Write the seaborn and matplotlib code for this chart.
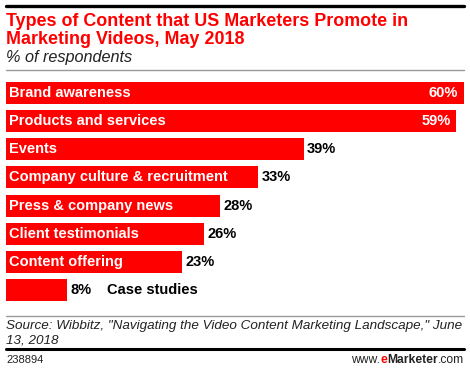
import matplotlib
matplotlib.use('Agg')
import matplotlib.pyplot as plt
import seaborn as sns
import pandas as pd
from matplotlib.lines import Line2D

categories = ['Brand awareness', 'Products and services', 'Events',
              'Company culture & recruitment', 'Press & company news',
              'Client testimonials', 'Content offering', 'Case studies']
values = [60, 59, 39, 33, 28, 26, 23, 8]

df = pd.DataFrame({'category': categories, 'value': values})

sns.set_theme(style='white')
plt.rcParams['font.family'] = ['Liberation Sans', 'DejaVu Sans']

W, H = 470, 371
fig = plt.figure(figsize=(W / 100, H / 100), dpi=100)


def fx(px):
    return px / W


def fy(py):
    return 1 - py / H


def hline(y, color, lw):
    fig.add_artist(Line2D([fx(6), fx(464)], [fy(y), fy(y)], color=color,
                          lw=lw, transform=fig.transFigure, clip_on=False))


RED = '#ff0000'
LBL = 10.5

# bar area
ax = fig.add_axes([fx(6), fy(304.6), fx(464) - fx(6), fy(78.4) - fy(304.6)])
sns.barplot(data=df, x='value', y='category', orient='h', color=RED,
            saturation=1, width=0.78, ax=ax, edgecolor='none')
ax.set_xlim(0, 60)
ax.set_ylim(7.5, -0.5)
ax.axis('off')

for i, (cat, v) in enumerate(zip(categories, values)):
    if v >= 50:
        ax.text(v - 0.75, i, f'{v}%', color='white', fontweight='bold',
                fontsize=LBL, ha='right', va='center')
        ax.text(0.45, i, cat, color='white', fontweight='bold', fontsize=LBL,
                ha='left', va='center')
    elif v >= 15:
        ax.text(v + 0.45, i, f'{v}%', color='black', fontweight='bold',
                fontsize=LBL, ha='left', va='center')
        ax.text(0.45, i, cat, color='white', fontweight='bold', fontsize=LBL,
                ha='left', va='center')
    else:
        ax.text(v + 0.45, i, f'{v}%', color='black', fontweight='bold',
                fontsize=LBL, ha='left', va='center')
        ax.text(13.2, i, cat, color='black', fontweight='bold', fontsize=LBL,
                ha='left', va='center')

# header
hline(6, 'black', 2.4)
fig.text(fx(6), fy(26), 'Types of Content that US Marketers Promote in',
         color=RED, fontweight='bold', fontsize=12.9, va='baseline')
fig.text(fx(6), fy(43.5), 'Marketing Videos, May 2018',
         color=RED, fontweight='bold', fontsize=12.9, va='baseline')
fig.text(fx(6), fy(62), '% of respondents', style='italic', fontsize=11.7,
         color='#222222', va='baseline')
hline(70, '#999999', 1)

# footer
hline(315.5, '#999999', 1)
fig.text(fx(6), fy(329.5),
         'Source: Wibbitz, "Navigating the Video Content Marketing Landscape," June',
         style='italic', fontsize=9.7, color='#222222', va='baseline')
fig.text(fx(6), fy(343.5), '13, 2018', style='italic', fontsize=9.7,
         color='#222222', va='baseline')
hline(348.5, 'black', 2.2)
fig.text(fx(6), fy(363), '238894', fontsize=8, color='#222222', va='baseline')

# www.eMarketer.com, built right to left
r = fig.canvas.get_renderer()
x_right = fx(464)
parts = [('.com', '#222222', 'normal'), ('Marketer', '#222222', 'bold'),
         ('e', RED, 'bold'), ('www.', '#222222', 'normal')]
for txt, col, wt in parts:
    t = fig.text(x_right, fy(363), txt, fontsize=8.7, color=col, fontweight=wt,
                 va='baseline', ha='right')
    bb = t.get_window_extent(renderer=r)
    x_right -= bb.width / W

fig.savefig('out.png', dpi=100)
